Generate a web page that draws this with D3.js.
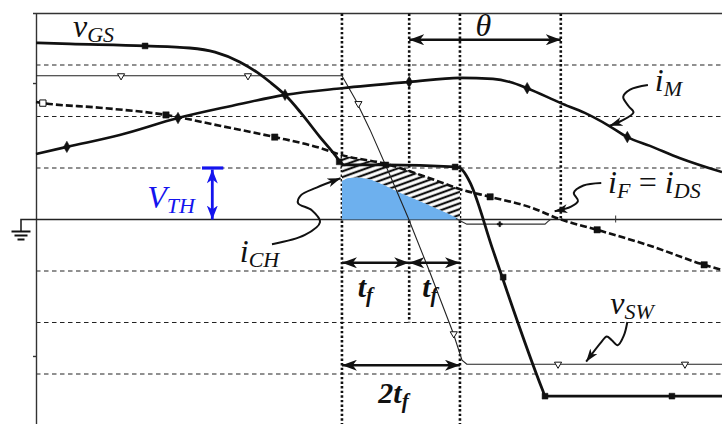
<!DOCTYPE html>
<html>
<head>
<meta charset="utf-8">
<script src="https://cdn.jsdelivr.net/npm/d3@7/dist/d3.min.js"></script>
<style>
  html, body { margin: 0; padding: 0; background: #fff; }
  svg { display: block; }
</style>
</head>
<body>
<svg id="chart" width="722" height="424"></svg>
<script>
// MOSFET turn-off switching waveforms.
// Time axis is normalised to 0..100, signal levels to -4..4 grid units.

const gridLevels = [-3, -2, -1, 1, 2, 3];
const axisTickLevels = [-2.65, 2.65];
const eventTimes = [44.6, 54.4, 61.8, 76.5];
const eventFloors = [-4, -2, -4, 0];

// gate-source voltage
const vGS = [[0,3.43],[4.96,3.41],[15.9,3.37],[22.4,3.33],[26.1,3.25],[29.7,3.06],[32.2,2.86],
  [34.1,2.67],[36.3,2.42],[38.5,2.09],[41.4,1.60],[43.6,1.25],[44.4,1.11],[44.9,1.06],[50.9,1.06],
  [61.1,1.02],[61.8,1.00],[62.7,0.86],[63.3,0.71],[66.6,-0.59],[73.9,-3.33],[74.2,-3.43],[74.6,-3.43],[100,-3.43]];
const vGSMarks = [[15.9,3.37],[44.2,1.12],[51.0,1.06],[61.1,1.02],[68.1,-1.12],[74.2,-3.43],[92.7,-3.43]];

// switch-node voltage
const vSW = [[0,2.79],[44.6,2.79],[46.6,2.32],[48.7,1.74],[51.6,0.86],[54.2,0.05],[57.4,-1.02],
  [60.8,-2.20],[62.1,-2.73],[62.8,-2.81],[100,-2.81]];
const vSWMarks = [[12.4,2.79],[30.9,2.79],[47.0,2.25],[60.9,-2.22],[76.1,-2.81],[94.6,-2.81]];

// magnetising current
const iM = [[0,1.27],[4.5,1.41],[12.2,1.64],[20.7,1.97],[28.3,2.20],[36.3,2.42],[44.6,2.55],
  [54.4,2.67],[61.8,2.75],[66.6,2.73],[69.1,2.67],[71.6,2.55],[76.5,2.26],[80.0,2.07],[83.4,1.83],
  [86.2,1.60],[89.5,1.43],[93.9,1.19],[100,0.92]];
const iMMarks = [[4.5,1.41],[20.7,1.97],[36.3,2.42],[54.4,2.67],[71.6,2.55],[86.2,1.60]];

// forward / drain-source current
const iF = [[0,2.28],[1.0,2.26],[9.3,2.17],[18.95,2.03],[26.8,1.82],[34.8,1.60],[41.4,1.39],
  [44.6,1.25],[51.6,1.06],[54.4,0.94],[59.3,0.71],[61.8,0.59],[66.2,0.44],[72.0,0.24],[76.5,0],
  [81.8,-0.20],[89.5,-0.51],[97.4,-0.88],[100,-0.98]];
const iFOpenMarks = [[1.0,2.26]];
const iFMarks = [[18.95,2.03],[34.8,1.60],[66.2,0.44],[81.8,-0.20],[97.4,-0.88]];

// channel current
const iCH = [[44.6,0],[44.6,0.75],[45.3,0.80],[46.8,0.82],[48.7,0.78],[50.6,0.68],[53.1,0.52],
  [55.6,0.38],[58.0,0.24],[60.0,0.12],[61.8,0]];

// small residual trace just below zero after the transition
const residual = [[61.2,0.02],[62.8,-0.09],[74.2,-0.09],[74.6,-0.04],[75.0,0]];
const residualMarks = [[67.6,-0.09]];
const zeroTicks = [84.5];

// annotation data
const vthLevel = 1.0, vthTime = 25.7, vthBar = [24.2, 27.3];
const thetaSpan = [54.4, 76.5], thetaLevel = 3.49;
const tfSpans = [[44.6, 54.4], [54.4, 61.8]], tfLevel = -0.84;
const twoTfSpan = [44.6, 61.8], twoTfLevel = -2.83;

const iCHPointer = [[34.4,-0.48],[39.2,-0.30],[41.4,-0.05],[40.2,0.18],[38.2,0.32],[38.6,0.47],[40.9,0.62],[44.4,0.80]];
const iMPointer = [[89.2,2.61],[86.6,2.52],[85.6,2.38],[86.4,2.20],[87.1,2.08],[85.4,1.92],[83.6,1.82]];
const iFPointer = [[82.4,0.71],[79.8,0.66],[78.4,0.52],[79.0,0.36],[78.0,0.25],[75.6,0.16]];
const vSWPointer = [[86.2,-1.99],[85.7,-2.25],[84.8,-2.44],[83.9,-2.34],[83.2,-2.27],[82.4,-2.38],[80.2,-2.76]];

const svg = d3.select("#chart");
const x = d3.scaleLinear().domain([0, 100]).range([36, 722]);
const y = d3.scaleLinear().domain([-4, 4]).range([425.5, 13.5]);
const INK = "#111";
const BLUE = "#1414ee";
const SERIF = "'Liberation Serif', 'Times New Roman', Times, 'DejaVu Serif', serif";

// ---- defs: arrow heads, hatch pattern ----
const defs = svg.append("defs");
function head(id, len, wid, color) {
  defs.append("marker").attr("id", id)
    .attr("viewBox", `0 ${-wid/2} ${len} ${wid}`)
    .attr("refX", len).attr("refY", 0)
    .attr("markerWidth", len).attr("markerHeight", wid)
    .attr("markerUnits", "userSpaceOnUse")
    .attr("orient", "auto-start-reverse")
    .append("path")
    .attr("d", `M0,${-wid/2} L${len},0 L0,${wid/2} L${len*0.28},0 Z`)
    .attr("fill", color);
}
head("bigHead", 15, 11, INK);
head("ptrHead", 13, 9, INK);
head("blueHead", 14, 11, BLUE);

const hatch = defs.append("pattern").attr("id", "hatch")
  .attr("patternUnits", "userSpaceOnUse")
  .attr("width", 12).attr("height", 5.4)
  .attr("patternTransform", "rotate(-20)");
hatch.append("rect").attr("width", 12).attr("height", 5.4).attr("fill", "#fff");
hatch.append("line").attr("x1", 0).attr("x2", 12).attr("y1", 2.7).attr("y2", 2.7)
  .attr("stroke", INK).attr("stroke-width", 2.2);

// ---- grid ----
svg.append("g").selectAll("line").data(gridLevels).join("line")
  .attr("x1", x(0)).attr("x2", x(100))
  .attr("y1", d => y(d)).attr("y2", d => y(d))
  .attr("stroke", "#222").attr("stroke-width", 1.1).attr("stroke-dasharray", "4.5,3.5");

// frame: top border, left axis, zero line with ground symbol
svg.append("line").attr("x1", x(0) - 3).attr("x2", x(100)).attr("y1", y(4)).attr("y2", y(4))
  .attr("stroke", "#333").attr("stroke-width", 1.5);
const axisG = svg.append("g").attr("transform", `translate(${x(0)},0)`)
  .call(d3.axisLeft(y).tickValues(axisTickLevels).tickSize(3).tickSizeOuter(0).tickFormat(""));
axisG.selectAll("path,line").attr("stroke", "#333").attr("stroke-width", 1.4);

const gx = x(0) - 15;
svg.append("path")
  .attr("d", `M${x(100)},${y(0)} H${gx} V${y(0) + 12}`)
  .attr("fill", "none").attr("stroke", "#222").attr("stroke-width", 1.6);
[[19, 0], [13, 4], [7, 8]].forEach(([w, dy]) => {
  svg.append("line").attr("x1", gx - w / 2).attr("x2", gx + w / 2)
    .attr("y1", y(0) + 12 + dy).attr("y2", y(0) + 12 + dy)
    .attr("stroke", "#111").attr("stroke-width", 2);
});

// event markers (dotted verticals)
svg.append("g").selectAll("line").data(eventTimes).join("line")
  .attr("x1", d => x(d)).attr("x2", d => x(d))
  .attr("y1", y(4)).attr("y2", (d, i) => y(eventFloors[i]))
  .attr("stroke", INK).attr("stroke-width", 2.6).attr("stroke-dasharray", "2.4,2.2");

// ---- channel current area and hatched displacement region ----
const area = d3.area().x(d => x(d[0])).y0(y(0)).y1(d => y(d[1])).curve(d3.curveMonotoneX);
svg.append("path").datum(iCH.slice(1)).attr("d", area).attr("fill", "#6db0ee");

const t0 = iCH[0][0], t1 = iCH[iCH.length - 1][0];
const upper = iF.filter(d => d[0] >= t0 && d[0] <= t1);
const lower = iCH.slice(1).reverse();
const hatchPoly = upper.concat(lower).map(d => [x(d[0]), y(d[1])]);
svg.append("path").attr("d", "M" + hatchPoly.join("L") + "Z").attr("fill", "url(#hatch)");

// ---- waveforms ----
const smooth = d3.line().x(d => x(d[0])).y(d => y(d[1])).curve(d3.curveMonotoneX);
const straight = d3.line().x(d => x(d[0])).y(d => y(d[1]));

svg.append("path").datum(residual).attr("d", straight)
  .attr("fill", "none").attr("stroke", "#333").attr("stroke-width", 1.1);
svg.append("path").datum(vSW).attr("d", straight)
  .attr("fill", "none").attr("stroke", "#222").attr("stroke-width", 1.1);
svg.append("path").datum(iF).attr("d", smooth)
  .attr("fill", "none").attr("stroke", INK).attr("stroke-width", 2.6).attr("stroke-dasharray", "7,3");
svg.append("path").datum(iM).attr("d", smooth)
  .attr("fill", "none").attr("stroke", INK).attr("stroke-width", 2.6);
svg.append("path").datum(vGS).attr("d", smooth)
  .attr("fill", "none").attr("stroke", INK).attr("stroke-width", 2.8);

// point markers
function marks(data, type, size, filled, rotate) {
  svg.append("g").selectAll("path").data(data).join("path")
    .attr("transform", d => `translate(${x(d[0])},${y(d[1])}) rotate(${rotate || 0})`)
    .attr("d", d3.symbol().type(type).size(size))
    .attr("fill", filled ? INK : "#fff")
    .attr("stroke", INK).attr("stroke-width", filled ? 0.5 : 1);
}
marks(vGSMarks, d3.symbolSquare, 34, true);
marks(vSWMarks, d3.symbolTriangle, 22, false, 180);
marks(iMMarks, d3.symbolDiamond, 38, true);
marks(iFMarks, d3.symbolSquare, 40, true);
marks(iFOpenMarks, d3.symbolSquare, 40, false);
marks(residualMarks, d3.symbolCross, 14, true);
svg.append("g").selectAll("line").data(zeroTicks).join("line")
  .attr("x1", d => x(d)).attr("x2", d => x(d))
  .attr("y1", y(0) - 4).attr("y2", y(0) + 3).attr("stroke", "#333").attr("stroke-width", 1);

// ---- dimension arrows ----
function span(a, b, level, color, marker, w) {
  svg.append("line").attr("x1", x(a)).attr("x2", x(b)).attr("y1", y(level)).attr("y2", y(level))
    .attr("stroke", color).attr("stroke-width", w)
    .attr("marker-start", `url(#${marker})`).attr("marker-end", `url(#${marker})`);
}
span(thetaSpan[0], thetaSpan[1], thetaLevel, INK, "bigHead", 2.6);
tfSpans.forEach(s => span(s[0], s[1], tfLevel, INK, "bigHead", 2.6));
span(twoTfSpan[0], twoTfSpan[1], twoTfLevel, INK, "bigHead", 2.6);

// threshold voltage arrow
svg.append("line").attr("x1", x(vthBar[0])).attr("x2", x(vthBar[1]))
  .attr("y1", y(vthLevel)).attr("y2", y(vthLevel)).attr("stroke", BLUE).attr("stroke-width", 3.2);
svg.append("line").attr("x1", x(vthTime)).attr("x2", x(vthTime))
  .attr("y1", y(vthLevel) + 1.5).attr("y2", y(0))
  .attr("stroke", BLUE).attr("stroke-width", 2.8)
  .attr("marker-start", "url(#blueHead)").attr("marker-end", "url(#blueHead)");

// ---- curved label pointers ----
const pointerLine = d3.line().x(d => x(d[0])).y(d => y(d[1])).curve(d3.curveCatmullRom.alpha(0.5));
[iCHPointer, iMPointer, iFPointer, vSWPointer].forEach(p => {
  svg.append("path").datum(p).attr("d", pointerLine)
    .attr("fill", "none").attr("stroke", INK).attr("stroke-width", 2)
    .attr("marker-end", "url(#ptrHead)");
});

// ---- labels ----
function mathLabel(xu, yu, parts, o) {
  o = Object.assign({ size: 32, sub: 22, drop: 5, color: INK, weight: "normal", anchor: "start" }, o || {});
  const t = svg.append("text").attr("x", x(xu)).attr("y", y(yu))
    .attr("font-family", SERIF)
    .attr("font-style", "italic").attr("font-weight", o.weight)
    .attr("fill", o.color).attr("text-anchor", o.anchor);
  let shift = 0;
  parts.forEach(p => {
    const isSub = typeof p !== "string";
    const s = t.append("tspan").text(isSub ? p.s : p).attr("font-size", isSub ? o.sub : o.size);
    const target = isSub ? o.drop : 0;
    if (target !== shift) { s.attr("dy", target - shift); shift = target; }
  });
  return t;
}
mathLabel(5.4, 3.55, ["v", { s: "GS" }]);
mathLabel(90.2, 2.50, ["i", { s: "M" }]);
mathLabel(83.4, 0.51, ["i", { s: "F" }, "\u2009=\u2009", "i", { s: "DS" }]);
mathLabel(29.7, -0.83, ["i", { s: "CH" }]);
mathLabel(16.2, 0.22, ["V", { s: "TH" }], { color: BLUE });
mathLabel(83.7, -1.83, ["v", { s: "SW" }]);
mathLabel(65.2, 3.56, ["\u03b8"], { anchor: "middle" });
mathLabel(46.9, -1.50, ["t", { s: "f" }], { weight: "bold", size: 30, sub: 21 });
mathLabel(56.3, -1.50, ["t", { s: "f" }], { weight: "bold", size: 30, sub: 21 });
mathLabel(49.9, -3.56, ["2t", { s: "f" }], { weight: "bold", size: 30, sub: 21 });
</script>
</body>
</html>
